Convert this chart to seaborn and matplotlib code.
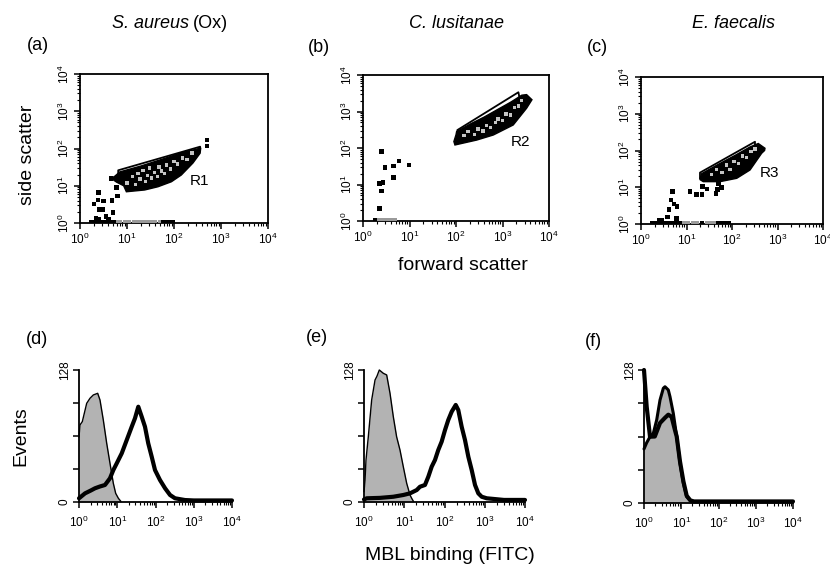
import numpy as np
import pandas as pd
import matplotlib
matplotlib.use("Agg")
import matplotlib.pyplot as plt
import seaborn as sns
from matplotlib.ticker import LogLocator, FixedLocator, NullFormatter, FuncFormatter

# ---------------- data ----------------
title_italic = ["S. aureus", "C. lusitanae", "E. faecalis"]
title_suffix = ["(Ox)", "", ""]
panel_letters_top = ["(a)", "(b)", "(c)"]
panel_letters_bottom = ["(d)", "(e)", "(f)"]
gate_names = ["R1", "R2", "R3"]
gate_label_x = [356, 2380, 684]
gate_label_y = [13.4, 146, 24.5]

# dense populations (outline of the dense event cloud)
cloud_a_x = [4.6, 5.5, 7.0, 20, 60, 150, 300, 370, 360, 253, 143, 88, 45.6, 23.8, 9.7, 8.5, 6.0]
cloud_a_y = [15.8, 18, 23.5, 34, 53, 78, 96, 104, 75, 40.8, 19.4, 12.8, 9.4, 7.7, 6.9, 10, 12.5]
cloud_b_x = [90, 100, 103, 200, 400, 800, 1500, 2600, 3300, 4300, 3300, 1700, 635, 279, 95]
cloud_b_y = [150, 230, 280, 450, 700, 1150, 1800, 2800, 2900, 2100, 1230, 427, 227, 165, 121]
cloud_c_x = [20, 21.6, 50, 120, 250, 378, 531, 520, 448, 249, 127, 54.5, 23.4, 20]
cloud_c_y = [18, 23.5, 42, 75, 125, 155, 115, 100, 84, 29.5, 17.5, 14.2, 14.2, 16]

# light events inside the dense clouds
speck_a_x = [10, 13, 15, 17, 19, 22, 25, 27, 30, 33, 38, 44, 48, 55, 62, 70, 85, 100, 120, 150, 190, 240]
speck_a_y = [12, 18, 11, 21, 15, 26, 13, 19, 30, 16, 23, 18, 32, 25, 21, 36, 28, 45, 38, 55, 50, 75]
speck_b_x = [150, 180, 250, 300, 380, 450, 550, 700, 800, 1000, 1200, 1500, 1800, 2200, 2600]
speck_b_y = [220, 280, 230, 330, 290, 420, 360, 500, 620, 560, 850, 800, 1300, 1400, 2000]
speck_c_x = [35, 45, 60, 75, 90, 110, 140, 170, 210, 260, 320]
speck_c_y = [22, 30, 25, 40, 30, 50, 45, 70, 65, 95, 110]

# isolated events
dots_a_x = [2.5, 2.4, 3.2, 4.8, 6.2, 5.9, 2.0, 2.6, 3.1, 5.0, 2.5, 4.0, 2.2, 3.6, 4.6, 500, 500]
dots_a_y = [6.5, 4.1, 3.9, 4.0, 5.3, 9.1, 3.2, 2.3, 2.3, 1.9, 1.26, 1.26, 1.3, 1.5, 15.8, 170, 117]
dots_b_x = [2.5, 3.0, 4.5, 6.0, 9.7, 4.5, 2.7, 2.24, 2.5, 2.24]
dots_b_y = [79, 28.9, 32, 44, 34, 15.4, 11.5, 10.8, 6.6, 2.2]
dots_c_x = [11.9, 16.6, 21.9, 22.5, 28.3, 44.6, 48, 59, 50, 4.9, 4.6, 5.3, 6.2, 4.1, 3.8, 6.1, 2.5, 2.8]
dots_c_y = [7.8, 6.3, 6.3, 10.5, 9.0, 6.8, 8.7, 9.8, 12.3, 7.7, 4.5, 3.5, 3.0, 2.5, 1.55, 1.41, 1.3, 1.28]

# events sitting on the axis (side scatter = 10^0)
base_dark_a = [1.7, 2.0, 2.3, 2.7, 3.0, 3.4, 3.9, 4.5, 5.2, 60, 70, 80, 95]
base_grey_a = [6.0, 7, 9, 11, 14, 17, 21, 26, 32, 40, 50]
base_dark_b = [1.8]
base_grey_b = [2.2, 2.6, 3.0, 3.5, 4.0, 4.8]
base_dark_c = [1.8, 2.2, 2.6, 3.0, 3.6, 4.2, 5.0, 6.0, 7.2, 50, 60, 70, 85, 22]
base_grey_c = [9, 11, 14, 17, 28, 34, 41]

# gates
gate_a_x = [6.5, 6.5, 360, 360]
gate_a_y = [14, 26, 112, 95]
gate_b_x = [107, 107, 2200, 2300]
gate_b_y = [227, 310, 3370, 2500]
gate_c_x = [19.8, 19.8, 320, 320]
gate_c_y = [17, 25, 173, 140]

# histograms: control (grey filled) and MBL (bold)
ctrl_d_x = [1.0, 1.06, 1.22, 1.59, 1.94, 2.37, 3.08, 3.54, 4.32, 5.3, 6.46, 7.9, 9.1, 10.7, 12.5]
ctrl_d_y = [63, 74.7, 77.9, 95.7, 100.6, 103.8, 105.4, 98.9, 79.5, 56.9, 37.5, 18.1, 8.4, 3.6, 0.5]
mbl_d_x = [1.0, 1.2, 1.44, 2.0, 2.62, 3.5, 4.78, 6.46, 7.9, 9.7, 13.1, 17.7, 23.9, 29.1, 35.5,
           43.6, 53.1, 64.6, 79.6, 97, 131, 178, 240, 324, 590, 1000, 3000, 10000]
mbl_d_y = [3.6, 6, 8.4, 11, 13.3, 15, 16.5, 23, 31, 37.5, 47.2, 60.1, 73, 81.2, 92.4,
           82.7, 73, 56.9, 43.9, 31, 21.3, 13.3, 6.8, 3.6, 1.9, 1.5, 1.5, 1.5]

ctrl_e_x = [1.0, 1.06, 1.12, 1.28, 1.55, 1.88, 2.1, 2.4, 3.02, 3.66, 4.43, 5.35, 6.46, 7.84,
            9.47, 11.5, 13.9, 15.3, 17]
ctrl_e_y = [10, 21, 40.7, 63.3, 98.9, 118.3, 122, 128, 124.8, 123.2, 105.4, 82.7, 63.3, 50.4,
            34.2, 18.1, 6.8, 3.6, 0.5]
mbl_e_x = [1.0, 1.17, 2.5, 5.35, 9.5, 13.9, 20.4, 24.6, 32.7, 39.6, 48, 58, 70, 85, 103, 124,
           151, 190, 220, 267, 323, 391, 474, 573, 692, 840, 1120, 3000, 10000]
mbl_e_y = [2.5, 3.6, 4, 5.1, 6.8, 8.4, 11.6, 14.8, 16.5, 24.5, 34.2, 40.7, 50.4, 58.5, 69.8, 79.5,
           87.6, 94.1, 89.2, 73, 60.1, 43.9, 31, 16.5, 8.4, 5.1, 3.6, 2, 2]

ctrl_f_x = [1.0, 1.18, 1.45, 1.78, 2.19, 2.69, 3.3, 3.66, 4.49, 4.99, 6.12, 7.55, 9.25, 11.4,
            14.0, 17.2, 20]
ctrl_f_y = [52, 58, 63.8, 67.1, 79.9, 99.1, 110.4, 111.9, 108.8, 102.3, 86.3, 63.8, 38.2, 19.0,
            6.1, 2.9, 1]
mbl_f_x = [1.0, 1.18, 1.45, 1.95, 2.69, 3.66, 4.49, 5.5, 6.8, 7.55, 9.25, 11.4, 14.0, 17.5,
           22, 100, 1000, 10000]
mbl_f_y = [128, 92.7, 63.8, 64, 77, 82, 85, 83, 70, 64, 40, 21, 7, 2.5, 1.5, 1.5, 1.5, 1.5]

hist_ticks = [0, 32, 64, 96, 128]
hist_ticklabels = ["0", "", "", "", "128"]

# ---------------- style ----------------
sns.set_theme(style="ticks")
plt.rcParams["font.family"] = ["Liberation Sans", "DejaVu Sans"]
plt.rcParams["mathtext.fontset"] = "custom"
plt.rcParams["mathtext.rm"] = "Liberation Sans"
plt.rcParams["mathtext.it"] = "Liberation Sans:italic"
plt.rcParams["mathtext.bf"] = "Liberation Sans:bold"
plt.rcParams["text.color"] = "black"
plt.rcParams["axes.labelcolor"] = "black"
plt.rcParams["xtick.color"] = "black"
plt.rcParams["ytick.color"] = "black"

W, H = 830, 574
fig = plt.figure(figsize=(W / 100, H / 100), dpi=100)


def rect(l, t, r, b):
    return [l / W, 1 - b / H, (r - l) / W, (b - t) / H]


def fx(px):
    return px / W


def fy(py):
    return 1 - py / H


decade_fmt = FuncFormatter(lambda v, p: r"$10^{%d}$" % int(round(np.log10(v))))


def log_axis(axis):
    axis.set_major_locator(LogLocator(base=10, numticks=10))
    axis.set_minor_locator(LogLocator(base=10, subs=np.arange(2, 10), numticks=20))
    axis.set_major_formatter(decade_fmt)
    axis.set_minor_formatter(NullFormatter())


def rotate_yticklabels(ax):
    for lab in ax.get_yticklabels():
        lab.set_rotation(90)
        lab.set_va("center")
        lab.set_ha("right")


scatter_rects = [rect(80, 74, 268, 223), rect(363, 75, 549, 221), rect(641, 77, 823, 224)]
clouds = [(cloud_a_x, cloud_a_y), (cloud_b_x, cloud_b_y), (cloud_c_x, cloud_c_y)]
specks = [(speck_a_x, speck_a_y), (speck_b_x, speck_b_y), (speck_c_x, speck_c_y)]
dots = [(dots_a_x, dots_a_y), (dots_b_x, dots_b_y), (dots_c_x, dots_c_y)]
base_dark = [base_dark_a, base_dark_b, base_dark_c]
base_grey = [base_grey_a, base_grey_b, base_grey_c]
gates = [(gate_a_x, gate_a_y), (gate_b_x, gate_b_y), (gate_c_x, gate_c_y)]

for i in range(3):
    ax = fig.add_axes(scatter_rects[i])
    ax.set_xscale("log")
    ax.set_yscale("log")
    cx, cy = clouds[i]
    ax.fill(cx, cy, color="black", lw=1.0, zorder=2)
    sx, sy = specks[i]
    sns.scatterplot(x=sx, y=sy, ax=ax, marker="s", s=6, color="#c4c4c4",
                    edgecolor="none", linewidth=0, zorder=3, legend=False)
    dx, dy = dots[i]
    sns.scatterplot(x=dx, y=dy, ax=ax, marker="s", s=11, color="black",
                    edgecolor="none", linewidth=0, zorder=3, legend=False)
    sns.scatterplot(x=base_grey[i], y=[1.04] * len(base_grey[i]), ax=ax, marker="s", s=9,
                    color="#9a9a9a", edgecolor="none", linewidth=0, zorder=3, legend=False)
    sns.scatterplot(x=base_dark[i], y=[1.04] * len(base_dark[i]), ax=ax, marker="s", s=10,
                    color="black", edgecolor="none", linewidth=0, zorder=3, legend=False)
    gx, gy = gates[i]
    sns.lineplot(x=gx, y=gy, ax=ax, sort=False, estimator=None, color="black",
                 lw=1.3, zorder=4, legend=False)
    ax.text(gate_label_x[i], gate_label_y[i], gate_names[i], fontsize=11,
            ha="center", va="center")
    ax.set_xlim(1, 1e4)
    ax.set_ylim(1, 1e4)
    log_axis(ax.xaxis)
    log_axis(ax.yaxis)
    for sp in ax.spines.values():
        sp.set_visible(True)
        sp.set_linewidth(1.3)
        sp.set_color("black")
    ax.tick_params(which="major", direction="out", length=4, width=1.1, labelsize=8.5,
                   colors="black", pad=2)
    ax.tick_params(which="minor", direction="out", length=2, width=0.8, colors="black")
    rotate_yticklabels(ax)
    ax.set_xlabel("")
    ax.set_ylabel("")

hist_rects = [rect(79, 370, 232, 502), rect(364, 370, 525, 502), rect(644, 370, 793, 503)]
ctrls = [(ctrl_d_x, ctrl_d_y), (ctrl_e_x, ctrl_e_y), (ctrl_f_x, ctrl_f_y)]
mbls = [(mbl_d_x, mbl_d_y), (mbl_e_x, mbl_e_y), (mbl_f_x, mbl_f_y)]
ctrl_lw = [1.0, 1.0, 2.2]

for i in range(3):
    ax = fig.add_axes(hist_rects[i])
    ax.set_xscale("log")
    cx, cy = ctrls[i]
    ax.fill_between(cx, cy, 0, color="#b3b3b3", lw=0, zorder=1)
    sns.lineplot(x=cx, y=cy, ax=ax, sort=False, estimator=None, color="black",
                 lw=ctrl_lw[i], zorder=2, legend=False)
    mx, my = mbls[i]
    sns.lineplot(x=mx, y=my, ax=ax, sort=False, estimator=None, color="black",
                 lw=3.0, zorder=3, legend=False)
    for ln in ax.lines:
        ln.set_clip_on(False)
    ax.set_xlim(1, 1e4)
    ax.set_ylim(0, 128)
    log_axis(ax.xaxis)
    ax.yaxis.set_major_locator(FixedLocator(hist_ticks))
    ax.set_yticklabels(hist_ticklabels)
    sns.despine(ax=ax)
    for sp in ["left", "bottom"]:
        ax.spines[sp].set_linewidth(1.3)
        ax.spines[sp].set_color("black")
    ax.tick_params(which="major", direction="out", length=4, width=1.1, labelsize=8.5,
                   colors="black", pad=2)
    ax.tick_params(which="minor", direction="out", length=2, width=0.8, colors="black")
    ax.tick_params(axis="x", pad=5)
    rotate_yticklabels(ax)
    ax.set_xlabel("")
    ax.set_ylabel("")

# ---------------- texts ----------------
# titles: italic species name followed by an upright suffix, centred as a whole
title_x = [170, 456, 733]
fig.canvas.draw()
renderer = fig.canvas.get_renderer()
for i in range(3):
    t1 = fig.text(0, fy(23), title_italic[i], fontsize=13, style="italic",
                  ha="left", va="center")
    w1 = t1.get_window_extent(renderer).width
    w2 = 0.0
    t2 = None
    gap = 4.0 if title_suffix[i] else 0.0
    if title_suffix[i]:
        t2 = fig.text(0, fy(23), title_suffix[i], fontsize=13, ha="left", va="center")
        w2 = t2.get_window_extent(renderer).width
    total = w1 + gap + w2
    left = title_x[i] - total / 2
    t1.set_x(fx(left))
    if t2 is not None:
        t2.set_x(fx(left + w1 + gap))

top_letter_pos = [(38, 46), (319, 47), (597, 47)]
for lab, (x, y) in zip(panel_letters_top, top_letter_pos):
    fig.text(fx(x), fy(y), lab, fontsize=13, ha="center", va="center")
bottom_letter_pos = [(37, 339), (317, 338), (593, 342)]
for lab, (x, y) in zip(panel_letters_bottom, bottom_letter_pos):
    fig.text(fx(x), fy(y), lab, fontsize=13, ha="center", va="center")

fig.text(fx(27), fy(155), "side scatter", fontsize=14, rotation=90, ha="center", va="center")
fig.text(fx(463), fy(265), "forward scatter", fontsize=14, ha="center", va="center")
fig.text(fx(21), fy(436), "Events", fontsize=14, rotation=90, ha="center", va="center")
fig.text(fx(450), fy(556), "MBL binding (FITC)", fontsize=14, ha="center", va="center")

fig.savefig("out.png", dpi=100, facecolor="white")
